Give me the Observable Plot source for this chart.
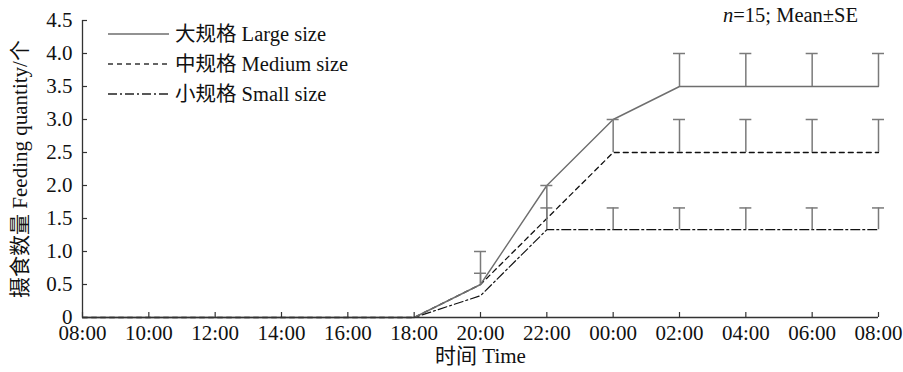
<!DOCTYPE html>
<html>
<head>
<meta charset="utf-8">
<script src="https://cdn.jsdelivr.net/npm/d3@7"></script>
<script src="https://cdn.jsdelivr.net/npm/@observablehq/plot@0.6"></script>
<style>
  body { margin: 0; background: #fff; }
</style>
</head>
<body>
<div id="chart"></div>
<script>
// ---- data ----
const timeLabels = ["08:00","10:00","12:00","14:00","16:00","18:00","20:00","22:00","00:00","02:00","04:00","06:00","08:00"];
const largeMean  = [0,0,0,0,0,0,0.5,2.0,3.0,3.5,3.5,3.5,3.5];
const largeSE    = [0,0,0,0,0,0,0.5,0,0,0.5,0.5,0.5,0.5];
const mediumMean = [0,0,0,0,0,0,0.5,1.5,2.5,2.5,2.5,2.5,2.5];
const mediumSE   = [0,0,0,0,0,0,0.17,0.5,0.5,0.5,0.5,0.5,0.5];
const smallMean  = [0,0,0,0,0,0,0.33,1.33,1.33,1.33,1.33,1.33,1.33];
const smallSE    = [0,0,0,0,0,0,0,0.33,0.33,0.33,0.33,0.33,0.33];
const yTicks = [0,0.5,1,1.5,2,2.5,3,3.5,4,4.5];
const seriesNames = ["大规格 Large size","中规格 Medium size","小规格 Small size"];

const font = "'Liberation Serif', 'Times New Roman', 'Noto Sans CJK SC', serif";
const fs = 21;

function rows(mean, se, name) {
  return mean.map((m, i) => ({i, m, se: se[i], top: m + se[i], name}));
}
const large = rows(largeMean, largeSE, seriesNames[0]);
const medium = rows(mediumMean, mediumSE, seriesNames[1]);
const small = rows(smallMean, smallSE, seriesNames[2]);
const idx = timeLabels.map((_, i) => i);

const styles = [
  {stroke: "#6e6e6e", strokeWidth: 1.4, dash: null},
  {stroke: "#111", strokeWidth: 1.3, dash: "5,4"},
  {stroke: "#111", strokeWidth: 1.2, dash: "9,3,2,3"}
];

const errColor = "#7a7a7a";
const capHalf = 6;
function caps(data) {
  const d = data.filter(r => r.se > 0);
  return Plot.ruleY(d, {y: "top", x1: "i", x2: "i", insetLeft: -capHalf, insetRight: -capHalf, stroke: errColor, strokeWidth: 1.5});
}
function stems(data) {
  const d = data.filter(r => r.se > 0);
  return Plot.ruleX(d, {x: "i", y1: "m", y2: "top", stroke: errColor, strokeWidth: 1.5});
}

const plot = Plot.plot({
  width: 903,
  height: 372,
  marginLeft: 82,
  marginRight: 25,
  marginTop: 20,
  marginBottom: 55,
  style: {fontFamily: font, fontSize: fs + "px", color: "#111", background: "#fff"},
  x: {domain: [0, 12]},
  y: {domain: [0, 4.5]},
  marks: [
    // data lines
    Plot.line(small, {x: "i", y: "m", stroke: styles[2].stroke, strokeWidth: styles[2].strokeWidth, strokeDasharray: styles[2].dash}),
    Plot.line(medium, {x: "i", y: "m", stroke: styles[1].stroke, strokeWidth: styles[1].strokeWidth, strokeDasharray: styles[1].dash}),
    Plot.line(large, {x: "i", y: "m", stroke: styles[0].stroke, strokeWidth: styles[0].strokeWidth}),
    // error bars
    stems(large), caps(large),
    stems(medium), caps(medium),
    stems(small), caps(small),
    // axes lines
    Plot.ruleY([0], {stroke: "#333", strokeWidth: 1.3}),
    Plot.ruleX([0], {stroke: "#333", strokeWidth: 1.3}),
    // inward ticks
    Plot.ruleX(idx, {x: d => d, y1: 0, y2: 0, insetTop: -5, stroke: "#333", strokeWidth: 1.2}),
    Plot.ruleY(yTicks, {y: d => d, x1: 0, x2: 0, insetRight: -5, stroke: "#333", strokeWidth: 1.2}),
    // tick labels
    Plot.axisX({ticks: idx, tickSize: 0, tickPadding: 8, tickFormat: i => timeLabels[i], label: null, fontSize: fs}),
    Plot.axisY({ticks: yTicks, tickSize: 0, tickPadding: 10, tickFormat: d => d === 0 ? "0" : d.toFixed(1), label: null, fontSize: fs}),
    // axis titles
    Plot.text(["摄食数量 Feeding quantity/个"], {frameAnchor: "left", textAnchor: "middle", lineAnchor: "middle", rotate: -90, dx: -62, fontSize: fs, fill: "#111"}),
    Plot.text(["时间 Time"], {frameAnchor: "bottom", textAnchor: "middle", lineAnchor: "middle", dy: 39, fontSize: fs, fill: "#111"})
  ]
});

document.getElementById("chart").appendChild(plot);

// annotation and legend
const svg = d3.select(plot);
const note = svg.append("text")
  .attr("x", 858).attr("y", 15).attr("dy", "0.35em")
  .attr("text-anchor", "end")
  .style("font-family", font).style("font-size", "20.5px").attr("fill", "#111");
note.append("tspan").style("font-style", "italic").text("n");
note.append("tspan").text("=15; Mean±SE");

const legendLineStyles = [
  {stroke: "#6e6e6e", dash: null},
  {stroke: "#333", dash: "5,4"},
  {stroke: "#222", dash: "9,3,2,3"}
];
const lg = svg.append("g");
seriesNames.forEach((name, k) => {
  const y = 34 + k * 30;
  lg.append("line")
    .attr("x1", 108).attr("x2", 169).attr("y1", y).attr("y2", y)
    .attr("stroke", legendLineStyles[k].stroke).attr("stroke-width", 1.3)
    .attr("stroke-dasharray", legendLineStyles[k].dash);
  lg.append("text")
    .attr("x", 175).attr("y", y).attr("dy", "0.35em")
    .attr("text-anchor", "start")
    .style("font-family", font).style("font-size", "20.5px").attr("fill", "#111")
    .text(name);
});
</script>
</body>
</html>
